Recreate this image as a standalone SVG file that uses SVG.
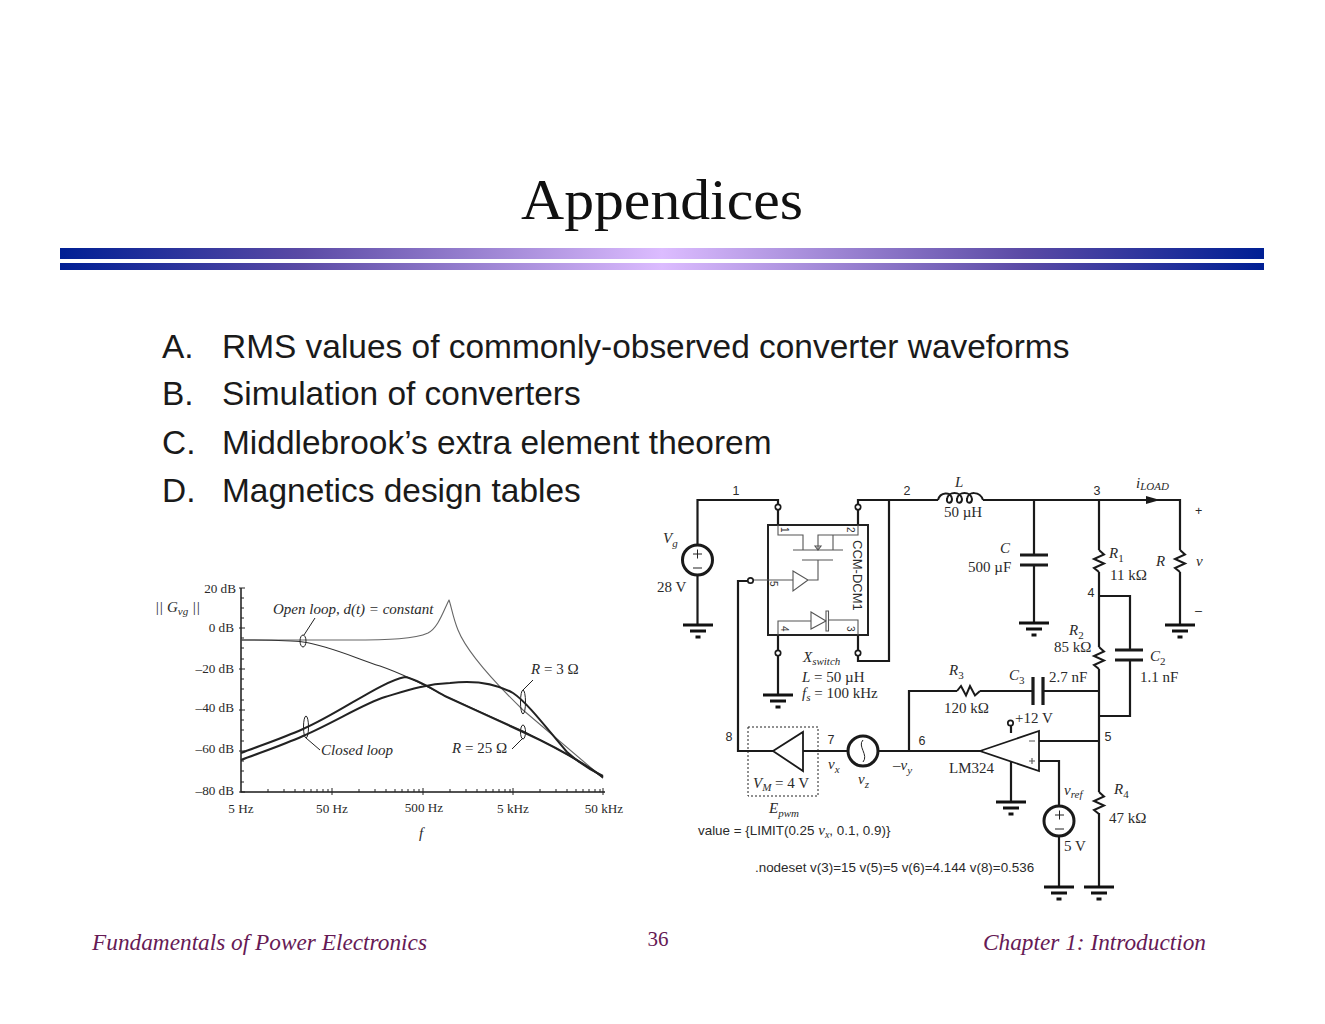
<svg xmlns="http://www.w3.org/2000/svg" width="1325" height="1024" viewBox="0 0 1325 1024">
<style>
.w{fill:none;stroke:#1a1a1a;stroke-width:2.2;stroke-linejoin:miter}
.t{fill:none;stroke:#555;stroke-width:1.1}
.c{fill:none;stroke:#1a1a1a;stroke-width:2}
.o{fill:none;stroke:#333;stroke-width:1.1;stroke-linejoin:round}
.k{fill:none;stroke:#222;stroke-width:2;stroke-linejoin:round}
.s{fill:#fff;stroke:#1a1a1a;stroke-width:3}
.p{fill:#fff;stroke:#1a1a1a;stroke-width:1.7}
.b{stroke:#1a1a1a;stroke-width:3.2;fill:none}
.a{fill:none;stroke:#222;stroke-width:1}
.r{font-family:"Liberation Serif",serif;font-size:15px;fill:#2a2a2a}
.i{font-family:"Liberation Serif",serif;font-size:15px;font-style:italic;fill:#2a2a2a}
.n{font-family:"Liberation Sans",sans-serif;font-size:12.5px;fill:#2a2a2a}
.m{font-family:"Liberation Sans",sans-serif;font-size:13.4px;fill:#2a2a2a}
.ax{font-family:"Liberation Serif",serif;font-size:13.2px;fill:#2a2a2a}
.h{font-family:"Liberation Sans",sans-serif;font-size:33.45px;fill:#1a1a1a}
.f{font-family:"Liberation Serif",serif;font-size:23.3px;font-style:italic;fill:#661a55}
.d{font-family:"Liberation Sans",sans-serif;font-size:10px;fill:#333}
</style>
<defs>
<linearGradient id="bar" x1="0" x2="1" y1="0" y2="0">
<stop offset="0" stop-color="#001f94"/><stop offset="0.2" stop-color="#5a4aa5"/><stop offset="0.5" stop-color="#dcbcff"/><stop offset="0.8" stop-color="#5a4aa5"/><stop offset="1" stop-color="#001f94"/>
</linearGradient>
<g id="gnd"><rect x="-15" y="-1.5" width="30" height="3" fill="#111"/><rect x="-8" y="4.500" width="16" height="3" fill="#111"/><rect x="-2.500" y="10.500" width="5" height="3" fill="#111"/></g>
<path id="res" class="c" d="M0,0 L5,4.500 L-5,9 L5,13.500 L-5,18 L0,22"/>
<circle id="pin" r="2.700" class="p"/>
</defs>
<rect width="1325" height="1024" fill="#fff"/>
<g id="header">
<rect x="60" y="248" width="1204" height="11" fill="url(#bar)"/>
<rect x="60" y="263" width="1204" height="7" fill="url(#bar)"/>
<text x="521" y="219" font-family="Liberation Serif, serif" font-size="57" fill="#111" textLength="282" lengthAdjust="spacingAndGlyphs">Appendices</text>
</g>
<g id="list">
<text class="h" x="162" y="358">A.</text><text class="h" x="222" y="358">RMS values of commonly-observed converter waveforms</text>
<text class="h" x="162" y="405">B.</text><text class="h" x="222" y="405">Simulation of converters</text>
<text class="h" x="162" y="454">C.</text><text class="h" x="222" y="454">Middlebrook’s extra element theorem</text>
<text class="h" x="162" y="502">D.</text><text class="h" x="222" y="502">Magnetics design tables</text>
</g>
<g id="plot">
<path class="c" style="stroke-width:1.500" d="M241,588V792H605"/>
<path class="a" d="M239,588h6M239,628h6M239,669h6M239,710h6M239,751h6M239,792h6M241,598h3M241,608h3M241,618h3M241,638h3M241,648h3M241,659h3M241,679h3M241,689h3M241,700h3M241,720h3M241,730h3M241,741h3M241,761h3M241,771h3M241,782h3M332,795v-7M423,795v-7M513,795v-7M603,795v-7M268,792v-3M284,792v-3M295,792v-3M304,792v-3M311,792v-3M317,792v-3M323,792v-3M328,792v-3M359,792v-3M375,792v-3M386,792v-3M395,792v-3M402,792v-3M408,792v-3M414,792v-3M419,792v-3M450,792v-3M466,792v-3M477,792v-3M486,792v-3M493,792v-3M499,792v-3M505,792v-3M510,792v-3M540,792v-3M556,792v-3M567,792v-3M576,792v-3M583,792v-3M589,792v-3M595,792v-3M600,792v-3"/>
<path class="o" style="stroke:#666" d="M241,640 L350,640 C390,640 415,639 428,633 C438,628 443,612 449,600 C451,605 453,618 458,630 C466,650 490,678 523,710 L603,778"/>
<path class="o" d="M241,640 C270,640 290,640 303,642 C330,646 355,658 380,666 C400,673 425,685 447,697 L523,731 C550,745 580,760 603,778"/>
<path class="k" d="M241,753 C262,745 283,738 303,729 C340,713 380,682 405,677 C417,679 432,689 447,697 L523,732 C545,742 575,757 603,777"/>
<path class="k" d="M241,760 C262,752 283,745 303,736 C335,722 365,703 385,697 C405,691 425,684 450,683 C475,680 495,683 513,693 C528,703 548,730 567,752 C578,762 590,770 603,776"/>
<ellipse class="a" cx="303" cy="641" rx="3" ry="6"/><path class="a" d="M304,635L315,618"/>
<ellipse class="a" cx="306" cy="727" rx="2.500" ry="11"/><path class="a" d="M306,738L320,750"/>
<ellipse class="a" cx="523" cy="702" rx="2.500" ry="12"/><path class="a" d="M523,690L533,680"/>
<ellipse class="a" cx="523" cy="732" rx="2.500" ry="7"/><path class="a" d="M523,738L512,749"/>
<text class="ax" x="236" y="593" text-anchor="end">20 dB</text>
<text class="ax" x="234" y="632" text-anchor="end">0 dB</text>
<text class="ax" x="234" y="673" text-anchor="end">–20 dB</text>
<text class="ax" x="234" y="712" text-anchor="end">–40 dB</text>
<text class="ax" x="234" y="753" text-anchor="end">–60 dB</text>
<text class="ax" x="234" y="795" text-anchor="end">–80 dB</text>
<text class="ax" x="241" y="813" text-anchor="middle">5 Hz</text>
<text class="ax" x="332" y="813" text-anchor="middle">50 Hz</text>
<text class="ax" x="424" y="812" text-anchor="middle">500 Hz</text>
<text class="ax" x="513" y="813" text-anchor="middle">5 kHz</text>
<text class="ax" x="604" y="813" text-anchor="middle">50 kHz</text>
<text class="i" x="421" y="838" text-anchor="middle">f</text>
<text class="i" x="155" y="612">|| G<tspan font-size="11" dy="3">vg</tspan><tspan dy="-3"> ||</tspan></text>
<text class="i" x="273" y="614">Open loop, d(t) = constant</text>
<text class="i" x="321" y="755">Closed loop</text>
<text class="i" x="531" y="674">R<tspan font-style="normal"> = 3 Ω</tspan></text>
<text class="i" x="452" y="753">R<tspan font-style="normal"> = 25 Ω</tspan></text>
</g>
<g id="connectors">
<path class="w" d="M697.500,545V500H778V525"/>
<path class="w" d="M858,525V500H938"/>
<path class="w" d="M889,500V661H858V635"/>
<path class="w" d="M778,635V695"/>
<path class="w" d="M697.500,575V625"/>
<path class="w" d="M748,581H738V751H773"/>
<path class="w" d="M803,751H848M878,751H980"/>
<path class="w" d="M909,751V691H957M980,691H1033M1043,691H1099"/>
<path class="w" d="M983,500H1180V550M1180,572V625"/>
<path class="w" d="M1034,500V555M1034,565V623"/>
<path class="w" d="M1099,500V550M1099,572V647M1099,669V792M1099,813V887"/>
<path class="w" d="M1099,596H1130V650M1130,660V716H1099"/>
<path class="w" d="M1039,741H1099M1039,761H1059V806M1059,836V887"/>
<path class="w" d="M1011,726V733M1011,761V802"/>
<path class="c" d="M938,500 C940,492 951,491 952,499 C952,504 946,504 947,499 C948,491 961,491 962,499 C962,504 956,504 957,499 C958,491 971,491 972,499 C972,504 966,504 967,499 C968,491 980,491 983,500"/>
<path d="M1146,496 L1160,500 L1146,504Z" fill="#1a1a1a"/>
</g>
<g id="switch">
<rect x="768" y="525" width="100" height="110" fill="none" stroke="#222" stroke-width="2"/>
<path class="t" d="M778,525V535H803V550M793,550H843M802,560H833M818,560V580H808M818,550V535H858V525M833,535V550M753,580H793M793,571V591L808,580ZM858,635V620H828M811,612V629L826,621ZM826,611H828.500V631H826ZM778,635V621H811"/>
<path class="t" d="M815,546h6l-3,4Z"/>
<text class="d" transform="translate(781,527) rotate(90)">1</text>
<text class="d" transform="translate(847,527) rotate(90)">2</text>
<text class="d" transform="translate(847,626) rotate(90)">3</text>
<text class="d" transform="translate(781,626) rotate(90)">4</text>
<text class="d" transform="translate(770,581) rotate(90)">5</text>
<text class="n" style="font-size:13px" transform="translate(852.500,540) rotate(90)">CCM-DCM1</text>
<use href="#pin" x="778" y="507"/><use href="#pin" x="858" y="507"/><use href="#pin" x="778" y="653"/><use href="#pin" x="858" y="653"/><use href="#pin" x="750.500" y="580.500"/>
</g>
<g id="vg"><circle class="s" cx="697.500" cy="560" r="15"/><path class="a" d="M693,554h9M697.500,549.500v9M693,568h9"/></g>
<g id="grounds">
<use href="#gnd" x="698" y="625"/><use href="#gnd" x="778" y="695"/><use href="#gnd" x="1034" y="623"/><use href="#gnd" x="1180" y="625"/><use href="#gnd" x="1011" y="802"/><use href="#gnd" x="1059" y="887"/><use href="#gnd" x="1099" y="887"/>
</g>
<g id="passives">
<use href="#res" x="1099" y="550"/><use href="#res" x="1180" y="550"/><use href="#res" x="1099" y="647"/><use href="#res" x="1099" y="792"/>
<path class="c" d="M957,691 L961,686 L966,695.500 L970,686 L975,695.500 L980,691"/>
<path class="b" d="M1020,555H1048M1020,565H1048M1115,650H1143M1115,660H1143M1033,677V705M1043,677V705"/>
</g>
<g id="pwm">
<rect x="748" y="727" width="70" height="69" fill="none" stroke="#222" stroke-width="1" stroke-dasharray="2 2"/>
<path d="M773,751L803,732V771Z" fill="#fff" stroke="#1a1a1a" stroke-width="1.800"/>
</g>
<g id="vz"><circle class="s" cx="863" cy="751" r="15"/><path class="a" d="M863,740C857,746 869,755 863,762"/></g>
<g id="opamp">
<path d="M980,751L1039,731V771Z" fill="#fff" stroke="#1a1a1a" stroke-width="1.800"/>
<path class="t" d="M1029,741h6M1029,761h6M1032,758v6"/>
<circle cx="1010.500" cy="723" r="2.700" class="p"/>
</g>
<g id="vref"><circle class="s" cx="1059" cy="821" r="15"/><path class="a" d="M1055,815h9M1059.500,810.500v9M1055,829h9"/></g>
<g id="labels">
<text class="n" x="736" y="495" text-anchor="middle">1</text>
<text class="n" x="907" y="495" text-anchor="middle">2</text>
<text class="n" x="1097" y="495" text-anchor="middle">3</text>
<text class="n" x="1091" y="597" text-anchor="middle">4</text>
<text class="n" x="1108" y="741" text-anchor="middle">5</text>
<text class="n" x="922" y="745" text-anchor="middle">6</text>
<text class="n" x="831" y="744" text-anchor="middle">7</text>
<text class="n" x="729" y="741" text-anchor="middle">8</text>
<text class="i" x="955" y="487">L</text>
<text class="r" x="963" y="517" text-anchor="middle">50 µH</text>
<text class="i" x="663" y="543">V<tspan font-size="11" dy="4">g</tspan></text>
<text class="r" x="657" y="592">28 V</text>
<text class="i" x="1000" y="553">C</text>
<text class="r" x="968" y="572">500 µF</text>
<text class="i" x="1136" y="488">i<tspan font-size="11" dy="2">LOAD</tspan></text>
<text class="n" x="1195" y="515">+</text>
<text class="n" x="1195" y="615">–</text>
<text class="i" x="1109" y="558">R<tspan font-size="11" dy="4" font-style="normal">1</tspan></text>
<text class="r" x="1110" y="580">11 kΩ</text>
<text class="i" x="1156" y="566">R</text>
<text class="i" x="1196" y="566">v</text>
<text class="i" x="1069" y="635">R<tspan font-size="11" dy="4" font-style="normal">2</tspan></text>
<text class="r" x="1054" y="652">85 kΩ</text>
<text class="i" x="1150" y="661">C<tspan font-size="11" dy="4" font-style="normal">2</tspan></text>
<text class="r" x="1140" y="682">1.1 nF</text>
<text class="i" x="949" y="675">R<tspan font-size="11" dy="4" font-style="normal">3</tspan></text>
<text class="r" x="944" y="713">120 kΩ</text>
<text class="i" x="1009" y="680">C<tspan font-size="11" dy="4" font-style="normal">3</tspan></text>
<text class="r" x="1049" y="682">2.7 nF</text>
<text class="r" x="1015" y="723">+12 V</text>
<text class="i" x="803" y="662">X<tspan font-size="11" dy="3">switch</tspan></text>
<text class="i" x="802" y="682">L<tspan font-style="normal"> = 50 µH</tspan></text>
<text class="i" x="802" y="698">f<tspan font-size="11" dy="3">s</tspan><tspan font-style="normal" dy="-3"> = 100 kHz</tspan></text>
<text class="i" x="828" y="769">v<tspan font-size="11" dy="4">x</tspan></text>
<text class="i" x="893" y="770"><tspan font-style="normal">–</tspan>v<tspan font-size="11" dy="4">y</tspan></text>
<text class="i" x="858" y="784">v<tspan font-size="11" dy="4">z</tspan></text>
<text class="r" x="949" y="773">LM324</text>
<text class="i" x="753" y="788">V<tspan font-size="11" dy="3">M</tspan><tspan font-style="normal" dy="-3"> = 4 V</tspan></text>
<text class="i" x="769" y="813">E<tspan font-size="11" dy="4">pwm</tspan></text>
<text class="m" x="698" y="835">value = {LIMIT(0.25 <tspan font-family="Liberation Serif, serif" font-style="italic" font-size="15">v</tspan><tspan font-family="Liberation Serif, serif" font-style="italic" font-size="10" dy="3">x</tspan><tspan dy="-3">, 0.1, 0.9)}</tspan></text>
<text class="m" x="755" y="872">.nodeset v(3)=15 v(5)=5 v(6)=4.144 v(8)=0.536</text>
<text class="i" x="1064" y="795">v<tspan font-size="11" dy="3">ref</tspan></text>
<text class="i" x="1114" y="794">R<tspan font-size="11" dy="4" font-style="normal">4</tspan></text>
<text class="r" x="1109" y="823">47 kΩ</text>
<text class="r" x="1064" y="851">5 V</text>
</g>
<g id="footer">
<text class="f" x="92" y="950">Fundamentals of Power Electronics</text>
<text x="658" y="946" text-anchor="middle" font-family="Liberation Serif, serif" font-size="21" fill="#661a55">36</text>
<text class="f" x="1206" y="950" text-anchor="end">Chapter 1: Introduction</text>
</g>
</svg>
